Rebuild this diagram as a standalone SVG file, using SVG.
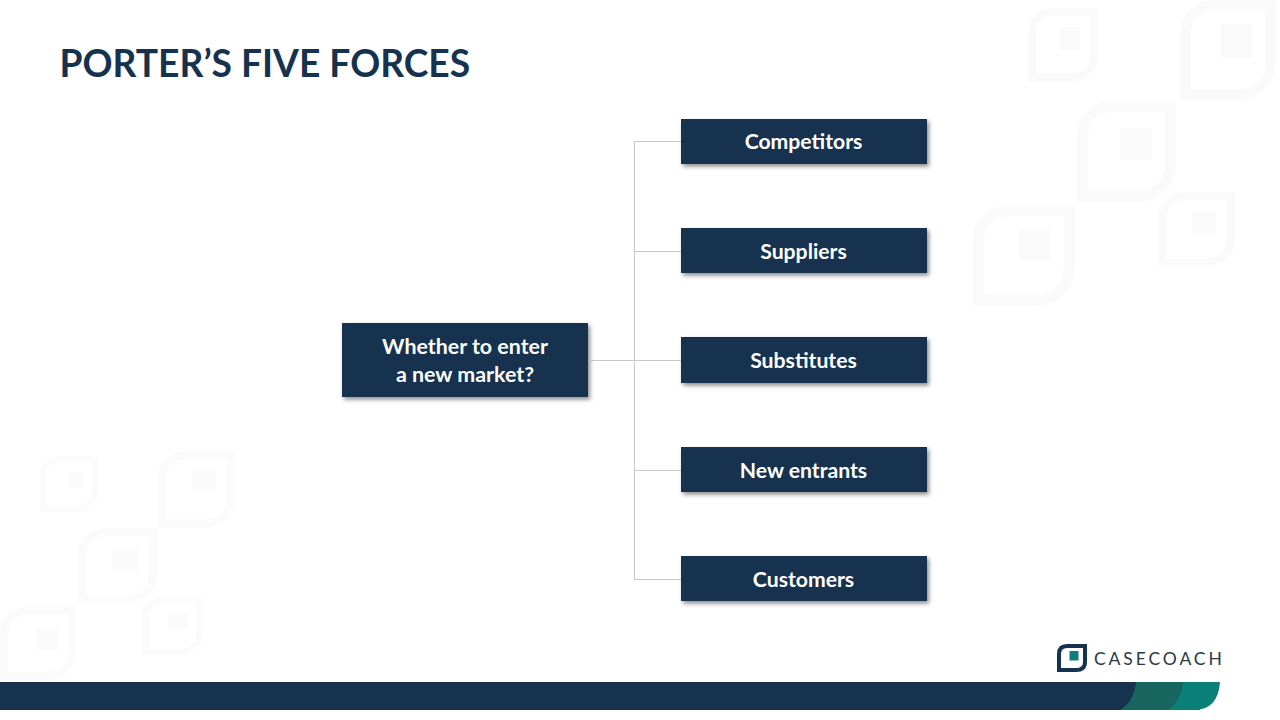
<svg xmlns="http://www.w3.org/2000/svg" xmlns:xlink="http://www.w3.org/1999/xlink" width="1280" height="720" viewBox="0 0 1280 720">
<style>
.box{fill:#15324f}
.lbl{font-family:Lato,"Liberation Sans",sans-serif;font-weight:700;font-size:21.200px;fill:#fff;text-anchor:middle}
.ttl{font-family:Lato,"Liberation Sans",sans-serif;font-weight:700;font-size:37.200px;fill:#15324f}
.con{fill:none;stroke:#c9c9c9;stroke-width:1}
.bg{fill:#fafafa;fill-rule:evenodd}
.bgl{fill:#fbfbfb;fill-rule:evenodd}
</style>
<defs>
<filter id="sh" x="-5%" y="-15%" width="112%" height="135%"><feDropShadow dx="2" dy="2.5" stdDeviation="2" flood-color="#000" flood-opacity="0.45"/></filter>
<path id="m" d="M34 0H100V62Q100 78 88 89Q76 100 62 100H0V34Q0 18 11 10Q21 0 34 0ZM34 11Q11 13 11 36V89H62Q89 87 89 62V11Z"/>
</defs>
<rect width="1280" height="720" fill="#fff"/>
<g id="decor">
<g class="bg">
<use xlink:href="#m" transform="translate(1028 8) scale(.7 .74)"/><rect x="1060" y="27" width="20" height="23"/>
<use xlink:href="#m" transform="translate(1180 0) scale(.96 1)"/><rect x="1221" y="24" width="31" height="34"/>
<use xlink:href="#m" transform="translate(1077 101) scale(.99 1.01)"/><rect x="1120" y="128" width="32" height="32"/>
<use xlink:href="#m" transform="translate(1158 192) scale(.77 .75)"/><rect x="1192" y="212" width="24" height="23"/>
<use xlink:href="#m" transform="translate(973 205) scale(1.02 1.01)"/><rect x="1019" y="229" width="31" height="31"/>
</g>
<g class="bgl">
<use xlink:href="#m" transform="translate(40 456) scale(.58 .56)"/><rect x="68" y="472" width="16" height="16"/>
<use xlink:href="#m" transform="translate(158 451) scale(.77 .77)"/><rect x="192" y="469" width="24" height="23"/>
<use xlink:href="#m" transform="translate(78 528) scale(.79 .76)"/><rect x="112" y="548" width="26" height="24"/>
<use xlink:href="#m" transform="translate(142 597) scale(.61 .58)"/><rect x="168" y="613" width="20" height="17"/>
<use xlink:href="#m" transform="translate(0 607) scale(.76 .73)"/><rect x="36" y="628" width="22" height="22"/>
</g>
</g>
<text class="ttl" x="59.500" y="77">PORTER’S FIVE FORCES</text>
<g id="connectors">
<path class="con" d="M591 360.500H681M634.500 141.500V579.500M634 141.500H681M634 251.500H681M634 470.500H681M634 579.500H681"/>
</g>
<g id="root"><rect class="box" x="342" y="323" width="246" height="74" filter="url(#sh)"/><text class="lbl" x="465" y="354" style="font-size:21.400px">Whether to enter</text><text class="lbl" x="465" y="382" style="font-size:21.400px">a new market?</text></g>
<g id="competitors"><rect class="box" x="681" y="119" width="246" height="45" filter="url(#sh)"/><text class="lbl" x="803.500" y="149">Competitors</text></g>
<g id="suppliers"><rect class="box" x="681" y="228" width="246" height="45" filter="url(#sh)"/><text class="lbl" x="803.500" y="259">Suppliers</text></g>
<g id="substitutes"><rect class="box" x="681" y="337" width="246" height="46" filter="url(#sh)"/><text class="lbl" x="803.500" y="368">Substitutes</text></g>
<g id="new-entrants"><rect class="box" x="681" y="447" width="246" height="45" filter="url(#sh)"/><text class="lbl" x="803.500" y="478">New entrants</text></g>
<g id="customers"><rect class="box" x="681" y="556" width="246" height="45" filter="url(#sh)"/><text class="lbl" x="803.500" y="587">Customers</text></g>
<g id="footer">
<path fill="#15324f" d="M0 682H1200V710H0Z"/>
<path fill="#17665f" d="M1136 682H1200V710H1120Q1134 702 1136 682Z"/>
<path fill="#0b8079" d="M1183 682H1220Q1218 710 1194 710H1168Q1181 702 1183 682Z"/>
</g>
<g id="logo">
<path fill="#15324f" fill-rule="evenodd" d="M1067 644H1087V662Q1087 672 1076 672H1057V654Q1057 644 1067 644ZM1067 648Q1061 648 1061 654V668H1076Q1083 668 1083 662V648Z"/>
<rect x="1069.500" y="651" width="9" height="9.500" fill="#0e7f7a"/>
<text x="1094" y="664.500" font-family="Lato,'Liberation Sans',sans-serif" font-size="17.500" letter-spacing="2.900" fill="#2a3a45">CASECOACH</text>
</g>
</svg>
